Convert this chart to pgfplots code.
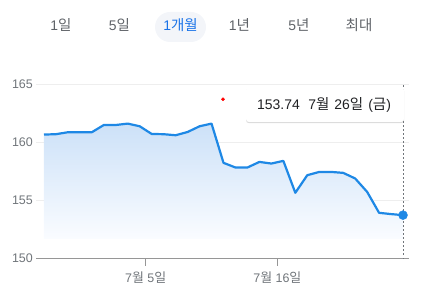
\documentclass[border=0pt]{standalone}
\usepackage{fontspec}
\setmainfont{Liberation Sans}
\newfontfamily\kr[Scale=1.04]{Noto Sans CJK KR}
\usepackage{pgfplots}
\pgfplotsset{compat=1.18}
\usetikzlibrary{shadows}
\definecolor{lineblue}{RGB}{30,136,229}
\definecolor{ticklab}{RGB}{112,117,122}
\definecolor{btn}{RGB}{95,99,104}
\definecolor{btnsel}{RGB}{26,115,232}
\definecolor{pill}{RGB}{243,245,249}
\definecolor{gridc}{RGB}{238,238,238}
\definecolor{axisc}{RGB}{150,150,150}
\definecolor{filltop}{RGB}{204,225,248}
\definecolor{fillbot}{RGB}{250,252,255}
\begin{document}
\begin{tikzpicture}
\path[use as bounding box] (0,0) rectangle (432bp,292bp);
% range buttons
\fill[pill,rounded corners=15bp] (155bp,250bp) rectangle (206bp,280bp);
\begin{scope}[every node/.style={font=\fontsize{14}{16}\selectfont, inner sep=0pt, anchor=center}]
\node[text=btn] at (61bp,267bp) {1{\kr 일}};
\node[text=btn] at (119.5bp,267bp) {5{\kr 일}};
\node[text=btnsel] at (180.5bp,267bp) {1{\kr 개월}};
\node[text=btn] at (239.5bp,267bp) {1{\kr 년}};
\node[text=btn] at (299bp,267bp) {5{\kr 년}};
\node[text=btn] at (359bp,267bp) {{\kr 최대}};
\end{scope}
\begin{axis}[
  at={(36bp,33.3bp)}, anchor=south west,
  scale only axis, width=373bp, height=174.7bp,
  xmin=-0.668, xmax=30.5, ymin=150, ymax=165,
  clip=false,
  axis x line*=bottom, axis y line*=left,
  y axis line style={draw=none},
  x axis line style={draw=axisc, line width=1.3bp, -},
  ytick={150,155,160,165},
  ymajorgrids, major grid style={draw=gridc, line width=0.8bp},
  xtick={8.5,19.5},
  xticklabels={7{\kr 월} 5{\kr 일}, 7{\kr 월} 16{\kr 일}},
  tick align=outside, major tick length=7bp,
  xtick style={draw=axisc, line width=1.1bp},
  ytick style={draw=none},
  /pgf/number format/assume math mode=true,
  tick label style={font=\fontsize{12.5}{14}\selectfont, text=ticklab},
  yticklabel style={inner sep=0pt, anchor=east, xshift=4bp},
  xticklabel style={inner sep=0pt, anchor=center, yshift=-12bp},
]
\addplot[draw=none, top color=filltop, bottom color=fillbot] coordinates {
(0,151.7) (0,160.66) (1,160.69) (2,160.86) (3,160.86) (4,160.86) (5,161.48) (6,161.48) (7,161.60) (8,161.37) (9,160.71)
(10,160.69) (11,160.60) (12,160.88) (13,161.37) (14,161.60) (15,158.23) (16,157.83) (17,157.83) (18,158.31) (19,158.17)
(20,158.40) (21,155.66) (22,157.17) (23,157.45) (24,157.45) (25,157.37) (26,156.89) (27,155.74) (28,153.94) (29,153.83)
(30,153.74) (30,151.7)};
\addplot[draw=ticklab, line width=0.8bp, dash pattern=on 1.2bp off 2.8bp] coordinates {(30,150) (30,165)};
\addplot[color=lineblue, line width=2.2bp, line join=round, mark=none] coordinates {
(0,160.66) (1,160.69) (2,160.86) (3,160.86) (4,160.86) (5,161.48) (6,161.48) (7,161.60) (8,161.37) (9,160.71)
(10,160.69) (11,160.60) (12,160.88) (13,161.37) (14,161.60) (15,158.23) (16,157.83) (17,157.83) (18,158.31) (19,158.17)
(20,158.40) (21,155.66) (22,157.17) (23,157.45) (24,157.45) (25,157.37) (26,156.89) (27,155.74) (28,153.94) (29,153.83)
(30,153.74)};
\addplot[only marks, mark=*, mark size=4.5bp, color=lineblue] coordinates {(30,153.74)};
\addplot[only marks, mark=*, mark size=1.6bp, color=red, mark options={draw=red,fill=red}] coordinates {(14.96,163.69)};
\end{axis}
% tooltip
\fill[white, rounded corners=3bp, drop shadow={opacity=0.28, shadow xshift=0bp, shadow yshift=-1.2bp}] (246bp,170bp) rectangle (404bp,205bp);
\node[anchor=west, inner sep=0pt, font=\fontsize{14}{16}\selectfont, text={rgb,255:red,32;green,33;blue,36}] at (257bp,187bp) {153.74\hspace{8.5bp}7{\kr 월}\hspace{5bp}26{\kr 일}\hspace{5bp}({\kr 금})};
\end{tikzpicture}
\end{document}
